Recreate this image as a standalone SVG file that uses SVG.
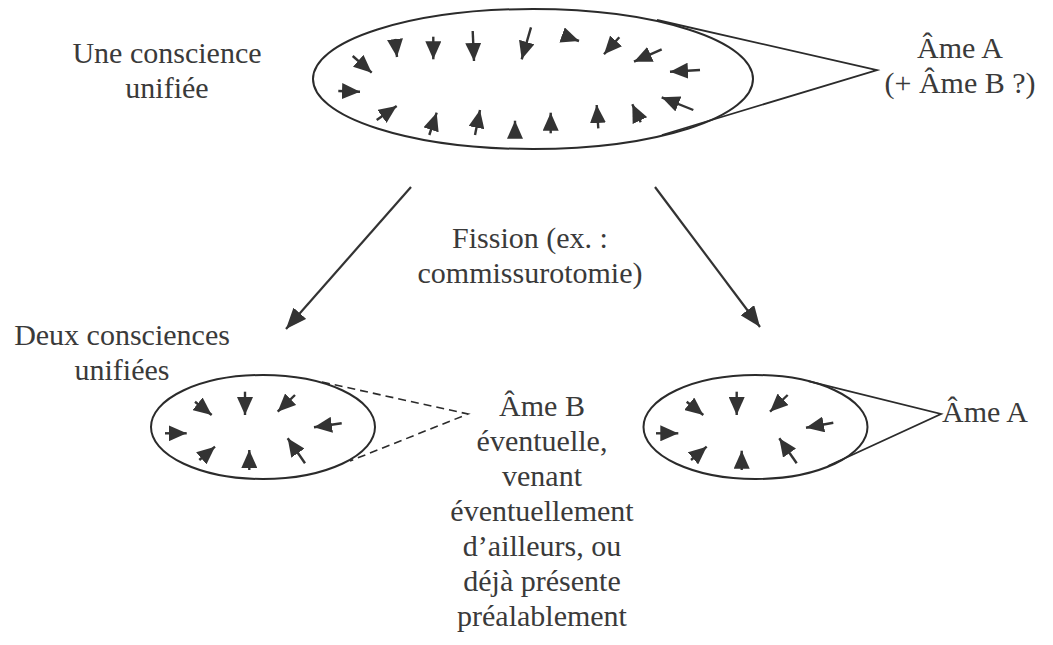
<svg xmlns="http://www.w3.org/2000/svg" width="1053" height="645" viewBox="0 0 1053 645">
<defs>
<style>
.t{font-family:"Liberation Serif","Times New Roman",serif;font-size:30px;fill:#3a3a3a;text-anchor:middle}
.ell{fill:none;stroke:#2b2b2b;stroke-width:2}
.call{fill:none;stroke:#2b2b2b;stroke-width:1.8}
.dash{fill:none;stroke:#2b2b2b;stroke-width:1.6;stroke-dasharray:8 5}
.sa{stroke:#333;stroke-width:2.4;marker-end:url(#sh)}
.big{stroke:#333;stroke-width:2.2;marker-end:url(#bh)}
</style>
<marker id="sh" markerUnits="userSpaceOnUse" markerWidth="18" markerHeight="16" viewBox="0 0 18 16" refX="18" refY="8" orient="auto">
<path d="M0,0 L18,8 L0,16 z" fill="#333"/>
</marker>
<marker id="bh" markerUnits="userSpaceOnUse" markerWidth="21" markerHeight="17" viewBox="0 0 21 17" refX="21" refY="8.5" orient="auto">
<path d="M0,0 L21,8.5 L0,17 z" fill="#333"/>
</marker>
</defs>
<rect width="1053" height="645" fill="#fff"/>

<g id="node-top">
<ellipse class="ell" cx="533" cy="79" rx="220" ry="70"/>
<line class="sa" x1="352.7" y1="56" x2="371.7" y2="72.7"/>
<line class="sa" x1="395" y1="39" x2="397" y2="57"/>
<line class="sa" x1="433.3" y1="36.7" x2="433.3" y2="59.3"/>
<line class="sa" x1="472.7" y1="31" x2="474" y2="61"/>
<line class="sa" x1="531" y1="27.3" x2="521.7" y2="59.3"/>
<line class="sa" x1="565" y1="36" x2="579" y2="41"/>
<line class="sa" x1="619.3" y1="37.3" x2="604" y2="54.3"/>
<line class="sa" x1="661.7" y1="49.3" x2="634" y2="61.7"/>
<line class="sa" x1="700" y1="70" x2="670" y2="71.7"/>
<line class="sa" x1="693.3" y1="110" x2="661.7" y2="97.3"/>
<line class="sa" x1="640.7" y1="122.3" x2="632.3" y2="104.3"/>
<line class="sa" x1="598.3" y1="128.3" x2="596.7" y2="105"/>
<line class="sa" x1="550.7" y1="133.3" x2="550.7" y2="112.7"/>
<line class="sa" x1="515" y1="137.7" x2="515" y2="120.7"/>
<line class="sa" x1="475" y1="135" x2="480" y2="110"/>
<line class="sa" x1="429.3" y1="135" x2="436.7" y2="112.7"/>
<line class="sa" x1="376.7" y1="120" x2="396.7" y2="106"/>
<line class="sa" x1="338.3" y1="91" x2="360" y2="91.7"/>
</g>

<g id="node-bottom-left">
<ellipse class="ell" cx="263" cy="427" rx="112" ry="52"/>
<line class="sa" x1="195" y1="401.7" x2="211.7" y2="415"/>
<line class="sa" x1="245" y1="391.7" x2="245" y2="415"/>
<line class="sa" x1="295" y1="395" x2="277.7" y2="411.7"/>
<line class="sa" x1="341.7" y1="423.3" x2="314" y2="427.3"/>
<line class="sa" x1="165" y1="433.3" x2="186.7" y2="433.3"/>
<line class="sa" x1="199.3" y1="460" x2="215" y2="446.7"/>
<line class="sa" x1="249.3" y1="470" x2="249.3" y2="450"/>
<line class="sa" x1="305" y1="463.3" x2="287.7" y2="438.3"/>
</g>

<g id="node-bottom-right">
<ellipse class="ell" cx="755.5" cy="427" rx="112" ry="52"/>
<line class="sa" x1="686.7" y1="401.7" x2="703.3" y2="415"/>
<line class="sa" x1="736.7" y1="391.7" x2="736.7" y2="415"/>
<line class="sa" x1="787.7" y1="395" x2="770" y2="411.7"/>
<line class="sa" x1="833.3" y1="422.7" x2="806" y2="427.7"/>
<line class="sa" x1="656" y1="433.3" x2="678.3" y2="433.3"/>
<line class="sa" x1="691" y1="460" x2="706.7" y2="446.7"/>
<line class="sa" x1="741.7" y1="470" x2="741.7" y2="450.7"/>
<line class="sa" x1="796.7" y1="463.3" x2="779.3" y2="438.3"/>
</g>

<g id="callout-top">
<polyline class="call" points="657,20 877,70 662,135"/>
</g>
<g id="callout-bottom-left">
<polyline class="dash" points="322,382 468,414 350,461"/>
</g>
<g id="callout-bottom-right">
<polyline class="call" points="808.3,381.1 941,414 828,466"/>
</g>

<g id="connectors">
<line class="big" x1="411" y1="187" x2="286" y2="329"/>
<line class="big" x1="655" y1="187" x2="760" y2="327"/>
</g>

<g id="label-une">
<text class="t" x="167" y="63">Une conscience</text>
<text class="t" x="167" y="98">unifiée</text>
</g>
<g id="label-ame-a-top">
<text class="t" x="960" y="58">Âme A</text>
<text class="t" x="960" y="93">(+ Âme B ?)</text>
</g>
<g id="label-fission">
<text class="t" x="530" y="248">Fission (ex. :</text>
<text class="t" x="530" y="283">commissurotomie)</text>
</g>
<g id="label-deux">
<text class="t" x="122" y="345">Deux consciences</text>
<text class="t" x="122" y="380">unifiées</text>
</g>
<g id="label-ame-b">
<text class="t" x="542" y="416">Âme B</text>
<text class="t" x="542" y="451">éventuelle,</text>
<text class="t" x="542" y="486">venant</text>
<text class="t" x="542" y="521">éventuellement</text>
<text class="t" x="542" y="556">d’ailleurs, ou</text>
<text class="t" x="542" y="591">déjà présente</text>
<text class="t" x="542" y="626">préalablement</text>
</g>
<g id="label-ame-a-bottom">
<text class="t" x="985" y="422">Âme A</text>
</g>
</svg>
